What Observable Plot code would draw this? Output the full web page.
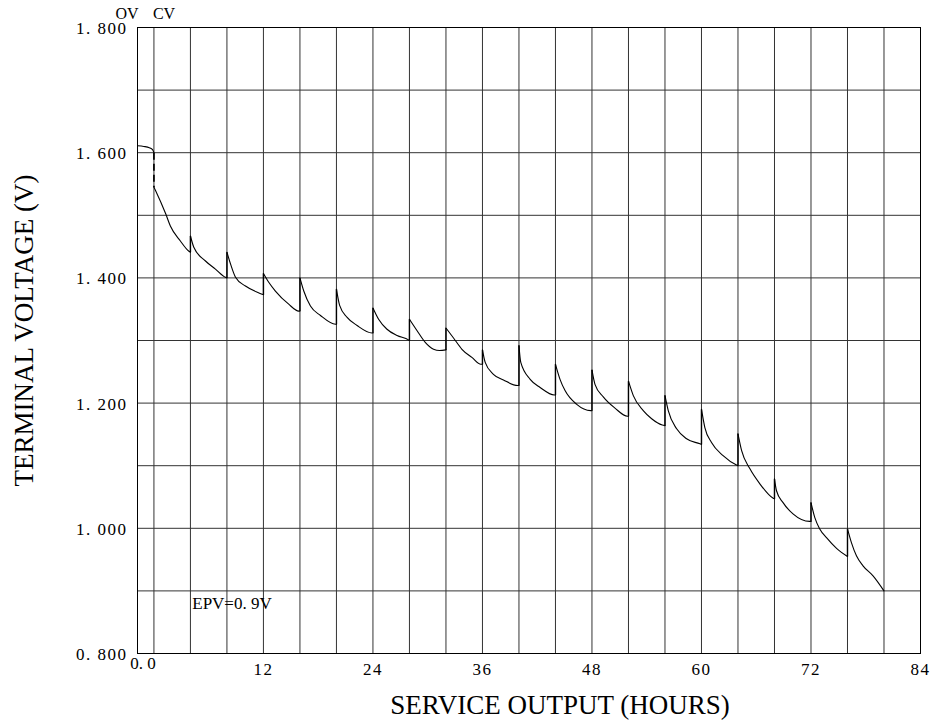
<!DOCTYPE html>
<html><head><meta charset="utf-8">
<script src="https://cdn.jsdelivr.net/npm/d3@7"></script>
<script src="https://cdn.jsdelivr.net/npm/@observablehq/plot@0.6"></script>
<style>
body{margin:0;background:#fff;}
g[aria-label$="tick label"] text{letter-spacing:1.5px;}
</style>
</head><body><div id="chart"></div>
<script>
// Intermittent discharge curve: cycle -1 = open-circuit before load
const cycle = [
 -1,-1,-1,-1,-1,
 0,0,0,0,0,0,0,
 1,1,1,1,1,1,
 2,2,2,2,2,2,
 3,3,3,3,3,3,
 4,4,4,4,4,4,
 5,5,5,5,5,5,
 6,6,6,6,6,6,
 7,7,7,7,7,7,
 8,8,8,8,8,8,
 9,9,9,9,9,9,
 10,10,10,10,10,10,
 11,11,11,11,11,11,
 12,12,12,12,12,12,
 13,13,13,13,13,13,
 14,14,14,14,14,14,
 15,15,15,15,15,15,
 16,16,16,16,16,16,
 17,17,17,17,17,17,
 18,18,18,18,18,18,
 19,19,19,19,19,19
];
const hours = [
 -1.8,-1.1,-0.5,-0.15,0,
 0,0.2,1.3,1.8,2.9,3.8,4,
 4,4.37,5.65,6.74,7.83,8,
 8,8.4,8.94,10.03,11.85,12,
 12,12.58,13.31,14.77,15.87,16,
 16,16.42,17.15,18.25,19.9,20,
 20,20.35,21.17,22.26,23.9,24,
 24,24.62,25.54,26.64,27.9,28,
 28,28.82,29.73,30.64,31.3,32,
 32,32.83,33.75,34.84,35.83,36,
 36,36.3,37.2,38.3,39.87,40,
 40,40.2,41.23,42.32,43.88,44,
 44,44.5,45.05,46.33,47.86,48,
 48,48.33,49.24,50.52,51.9,52,
 52,52.53,53.62,54.54,55.7,56,
 56,56.36,57.28,58.37,59.83,60,
 60,60.37,61.1,62.37,63.84,64,
 64,64.4,65.31,66.4,67.86,68,
 68,68.22,68.94,70.03,71.86,72,
 72,72.42,72.96,73.7,74.8,76,
 76,76.43,76.98,77.7,78.8,80
];
const volts = [
 1.611,1.610,1.608,1.605,1.600,
 1.545,1.539,1.502,1.483,1.459,1.443,1.441,
 1.467,1.449,1.427,1.414,1.401,1.400,
 1.441,1.422,1.401,1.387,1.374,1.373,
 1.407,1.393,1.379,1.358,1.347,1.347,
 1.400,1.379,1.355,1.340,1.326,1.326,
 1.382,1.356,1.337,1.324,1.312,1.312,
 1.352,1.334,1.318,1.308,1.301,1.300,
 1.334,1.316,1.297,1.286,1.284,1.285,
 1.320,1.304,1.286,1.273,1.262,1.262,
 1.285,1.265,1.246,1.237,1.228,1.228,
 1.292,1.265,1.238,1.225,1.213,1.213,
 1.262,1.238,1.220,1.198,1.188,1.188,
 1.253,1.230,1.210,1.192,1.179,1.179,
 1.235,1.212,1.188,1.175,1.165,1.164,
 1.212,1.188,1.159,1.143,1.135,1.134,
 1.190,1.161,1.137,1.116,1.101,1.100,
 1.151,1.124,1.095,1.071,1.048,1.047,
 1.079,1.060,1.041,1.023,1.011,1.011,
 1.041,1.017,0.999,0.985,0.968,0.955,
 0.999,0.977,0.956,0.940,0.924,0.900
];
// dashed drop when load is applied at 0 h
const dropHour = 0;
const dropVolts = [1.600, 1.545];

const xDomain = [-1.8, 84];
const yDomain = [0.8, 1.8];
const xGrid = [0,4,8,12,16,20,24,28,32,36,40,44,48,52,56,60,64,68,72,76,80,84];
const yGrid = [0.8,0.9,1.0,1.1,1.2,1.3,1.4,1.5,1.6,1.7,1.8];
const xTickLabels = [12,24,36,48,60,72,84];
const yTickLabels = [0.8,1.0,1.2,1.4,1.6,1.8];
const epvLabel = {text:"EPV=0. 9V", h:4.2, v:0.879};

const points = hours.map((h,i)=>({h, v:volts[i], c:cycle[i]}));
const byCycle = d3.group(points, d=>d.c);
const jumps = [];
for (let c=1; c<=19; c++){
  const prev = byCycle.get(c-1), cur = byCycle.get(c);
  jumps.push({h:cur[0].h, from:prev[prev.length-1].v, to:cur[0].v});
}

const chart = Plot.plot({
  width:935, height:724,
  marginLeft:137, marginRight:15, marginTop:27, marginBottom:71,
  style:{fontFamily:"'Liberation Serif', serif", fontSize:"17px", background:"#fff", color:"#000"},
  x:{domain:xDomain, axis:null},
  y:{domain:yDomain, axis:null},
  marks:[
    Plot.ruleX(xGrid, {stroke:"#333", strokeWidth:1}),
    Plot.ruleY(yGrid, {stroke:"#333", strokeWidth:1}),
    Plot.frame({stroke:"#000", strokeWidth:1}),
    Plot.line(points, {x:"h", y:"v", z:"c", curve:"monotone-x", stroke:"#000", strokeWidth:1.1}),
    Plot.link(jumps, {x1:"h", x2:"h", y1:"from", y2:"to", stroke:"#000", strokeWidth:1.4}),
    Plot.link([{h:dropHour, a:dropVolts[0], b:dropVolts[1]}], {x1:"h", x2:"h", y1:"a", y2:"b", stroke:"#000", strokeWidth:1.7, strokeDasharray:"7,4"}),
    Plot.axisY({ticks:yTickLabels, tickSize:0, tickPadding:10, dy:1, label:null, fontSize:17,
      tickFormat:d=>d.toFixed(3).replace(".", ". ")}),
    Plot.axisX({ticks:xTickLabels, tickSize:0, tickPadding:9, label:null, fontSize:17, tickFormat:d=>String(d)}),
    Plot.text(["0. 0"], {x:()=>0, frameAnchor:"bottom", lineAnchor:"top", dy:3, dx:-11, fontSize:17}),
    Plot.text(["OV"], {x:()=>xDomain[0], frameAnchor:"top", lineAnchor:"middle", textAnchor:"end", dy:-14, dx:1, fontSize:16}),
    Plot.text(["CV"], {x:()=>0, frameAnchor:"top", lineAnchor:"middle", textAnchor:"start", dy:-14, dx:-1, fontSize:16}),
    Plot.text([epvLabel], {x:"h", y:"v", text:"text", textAnchor:"start", lineAnchor:"middle", fontSize:17}),
    Plot.text(["TERMINAL VOLTAGE (V)"], {frameAnchor:"left", rotate:-90, textAnchor:"middle", lineAnchor:"middle", dx:-113, dy:-10, fontSize:27}),
    Plot.text(["SERVICE OUTPUT (HOURS)"], {frameAnchor:"bottom", textAnchor:"middle", lineAnchor:"middle", dx:31, dy:52, fontSize:27})
  ]
});
document.getElementById("chart").appendChild(chart);
</script>
</body></html>
